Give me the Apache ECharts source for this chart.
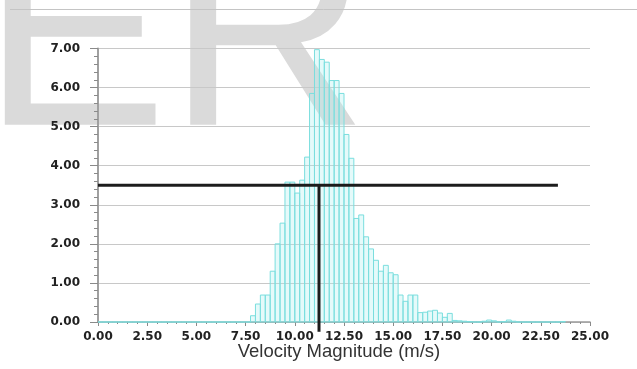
<!DOCTYPE html>
<html>
<head>
<meta charset="utf-8">
<script src="https://cdn.jsdelivr.net/npm/echarts@6/dist/echarts.min.js"></script>
<style>
  html, body { margin: 0; padding: 0; background: #ffffff; }
  #chart { width: 637px; height: 369px; }
</style>
</head>
<body>
<div id="chart"></div>
<script>
// Histogram of velocity magnitude: bins of 0.25 m/s starting at 0, value = percent of samples
const binStart = 0;
const binWidth = 0.25;
const frequency = [
  // 0.00 - 7.50
  0, 0, 0, 0, 0, 0, 0, 0, 0, 0,
  0, 0, 0, 0, 0, 0, 0, 0, 0, 0,
  0, 0, 0, 0, 0, 0, 0, 0, 0, 0,
  0,
  // 7.75 - 10.00
  0.16, 0.46, 0.69, 0.69, 1.30, 2.00, 2.53, 3.58, 3.58, 3.30,
  // 10.25 - 12.50
  3.63, 4.22, 5.85, 6.97, 6.72, 6.65, 6.18, 6.18, 5.85, 4.80,
  // 12.75 - 15.00
  4.19, 2.65, 2.74, 2.18, 1.87, 1.58, 1.30, 1.45, 1.26, 1.21,
  // 15.25 - 17.50
  0.69, 0.53, 0.69, 0.69, 0.24, 0.25, 0.28, 0.30, 0.23, 0.12,
  // 17.75 - 20.00
  0.22, 0.04, 0.03, 0.02, 0.01, 0, 0, 0.02, 0.05, 0.03,
  // 20.25 - 23.75
  0, 0.01, 0.05, 0.02, 0, 0, 0, 0, 0, 0, 0, 0, 0, 0.01
];

// Reference lines: half of the peak and the velocity where it is read
const halfLevel = [[0, 3.5], [23.37, 3.5]];
const modeMarker = [[11.23, 3.5], [11.23, -0.25]];

const xTicks = { min: 0, max: 25, step: 2.5 };
const yTicks = { min: 0, max: 7, step: 1 };

const binData = frequency.map((v, i) => [binStart + i * binWidth, v]);

const chart = echarts.init(document.getElementById('chart'), null, { renderer: 'canvas' });

const labelFont = {
  fontFamily: '"DejaVu Sans", Verdana, sans-serif',
  fontWeight: 'bold',
  fontSize: 12,
  color: '#222222'
};

chart.setOption({
  animation: false,
  backgroundColor: '#ffffff',
  graphic: [
    {
      type: 'text',
      z: -10,
      silent: true,
      style: {
        text: 'ER',
        x: -18,
        y: 187,
        font: '278px "Liberation Sans", Arial, sans-serif',
        fill: '#dadada',
        verticalAlign: 'bottom'
      }
    },
    {
      type: 'line',
      z: -5,
      silent: true,
      shape: { x1: 10, y1: 9.5, x2: 637, y2: 9.5 },
      style: { stroke: '#c4c4c4', lineWidth: 1 }
    }
  ],
  grid: {
    left: 98, right: 47, top: 48.5, bottom: 47,
    containLabel: false,
    outerBoundsMode: 'none'
  },
  xAxis: {
    type: 'value',
    min: xTicks.min, max: xTicks.max, interval: xTicks.step,
    name: 'Velocity Magnitude (m/s)',
    nameLocation: 'middle',
    nameGap: 20,
    nameMoveOverlap: false,
    nameTextStyle: {
      fontFamily: '"Liberation Sans", Arial, sans-serif',
      fontSize: 18.5,
      color: '#333333',
      padding: [0, 10, 0, 0]
    },
    axisLine: { show: true, onZero: false, lineStyle: { color: '#9a9a9a', width: 1.5 } },
    axisTick: { show: true, length: 4, lineStyle: { color: '#8a8a8a' } },
    minorTick: { show: true, splitNumber: 5, length: 2, lineStyle: { color: '#8a8a8a' } },
    splitLine: { show: false },
    axisLabel: Object.assign({ margin: 9, formatter: v => v.toFixed(2) }, labelFont)
  },
  yAxis: {
    type: 'value',
    min: yTicks.min, max: yTicks.max, interval: yTicks.step,
    axisLine: { show: true, lineStyle: { color: '#a0a0a0', width: 2 } },
    axisTick: { show: true, length: 8, lineStyle: { color: '#8a8a8a' } },
    minorTick: { show: true, splitNumber: 5, length: 4, lineStyle: { color: '#8a8a8a' } },
    splitLine: { show: true, lineStyle: { color: '#c8c8c8', width: 1 } },
    axisLabel: Object.assign({ margin: 18, formatter: v => v.toFixed(2) }, labelFont)
  },
  series: [
    {
      type: 'custom',
      name: 'frequency',
      clip: false,
      data: binData,
      renderItem: function (params, api) {
        const s = api.value(0);
        const v = api.value(1);
        const top = api.coord([s, v]);
        const base = api.coord([s + binWidth, 0]);
        return {
          type: 'rect',
          shape: { x: top[0], y: top[1], width: base[0] - top[0], height: base[1] - top[1] },
          style: { fill: 'rgba(170, 238, 238, 0.3)', stroke: '#7adede', lineWidth: 1 }
        };
      }
    },
    {
      type: 'line',
      data: halfLevel,
      clip: false,
      symbol: 'none',
      lineStyle: { color: '#1c1c1c', width: 3 },
      z: 5
    },
    {
      type: 'line',
      data: modeMarker,
      clip: false,
      symbol: 'none',
      lineStyle: { color: '#1c1c1c', width: 3 },
      z: 5
    }
  ]
});
</script>
</body>
</html>
